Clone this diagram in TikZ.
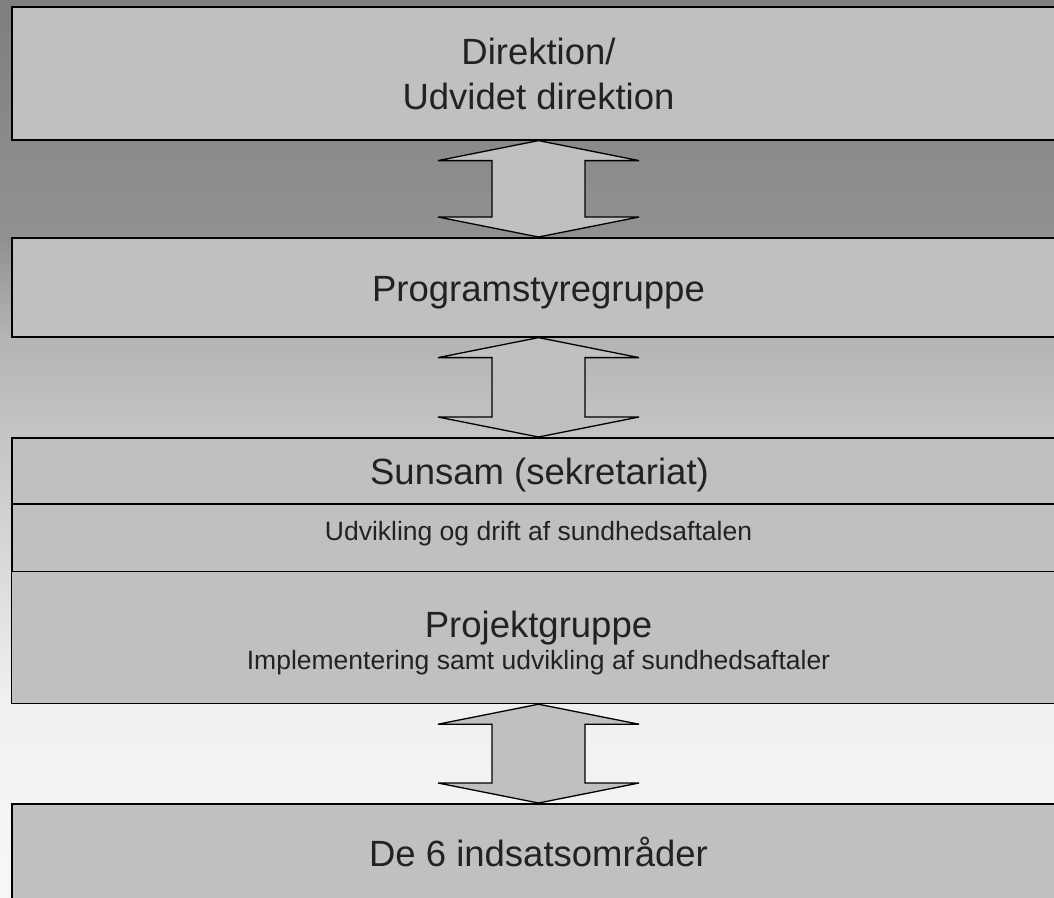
\documentclass[tikz,border=0pt]{standalone}
\usepackage{fontspec}
\setmainfont{Liberation Sans}
\usetikzlibrary{calc}
\definecolor{gA}{RGB}{127,127,127}
\definecolor{gB}{RGB}{138,138,138}
\definecolor{gC}{RGB}{145,145,145}
\definecolor{gD}{RGB}{180,180,180}
\definecolor{gE}{RGB}{197,197,197}
\definecolor{gF}{RGB}{240,240,240}
\definecolor{gG}{RGB}{247,247,247}
\definecolor{boxfill}{RGB}{192,192,192}
\definecolor{txt}{RGB}{34,34,34}
\pgfdeclareverticalshading{bgshade}{100bp}{color(0bp)=(gG); color(25bp)=(gG); color(35.98bp)=(gF); color(50.47bp)=(gE); color(56.33bp)=(gD); color(61.62bp)=(gC); color(67.2bp)=(gB); color(75bp)=(gA); color(100bp)=(gA)}
\tikzset{
  levelbox/.style={draw=black, line width=1.6pt, fill=boxfill, rectangle, inner sep=0pt, anchor=north west},
  bigtext/.style={text=txt, font=\fontsize{36.5}{44}\selectfont, anchor=base, inner sep=0pt},
  smalltext/.style={text=txt, font=\fontsize{26.5}{32}\selectfont, anchor=base, inner sep=0pt},
  dblarrow/.style={draw=black, line width=1.3pt, fill=boxfill, line join=miter}
}
\newcommand{\levelarrow}[2]{%
  \draw[dblarrow] let \p1=(#1.south), \p2=(#2.north) in
    (538.5pt,\y1) -- ++(100.5pt,-20pt) -- ++(-54pt,0pt) -- (585pt,\y2+20pt) -- ++(54pt,0pt)
    -- (538.5pt,\y2) -- ++(-100.5pt,20pt) -- ++(54pt,0pt) -- (492pt,\y1-20pt) -- ++(-54pt,0pt) -- cycle;}
\begin{document}
\begin{tikzpicture}[x=1pt,y=-1pt]
\useasboundingbox (0,0) rectangle (1054,897);
\clip (0,0) rectangle (1054,897);
\shade[shading=bgshade] (0,0) rectangle (1054,897);
% boxes
\node[levelbox, minimum width=1056pt, minimum height=133pt] (b1) at (11,6) {};
\node[levelbox, minimum width=1056pt, minimum height=99pt] (b2) at (11,237) {};
\node[levelbox, minimum width=1056pt, minimum height=66pt] (b3) at (11,437) {};
\node[levelbox, minimum width=1056pt, minimum height=68pt] (b4) at (11,503) {};
\node[levelbox, line width=1.2pt, minimum width=1056pt, minimum height=132pt] (b5) at (11,571) {};
\node[levelbox, minimum width=1056pt, minimum height=120pt] (b6) at (11,803) {};
% texts
\node[bigtext] (t1a) at (538.5,64) {Direktion/};
\node[bigtext] (t1b) at (538.5,109) {Udvidet direktion};
\node[bigtext] (t2) at (538.5,301) {Programstyregruppe};
\node[bigtext] (t3) at (539.5,484) {Sunsam (sekretariat)};
\node[smalltext] (t4) at (538.5,540) {Udvikling og drift af sundhedsaftalen};
\node[bigtext] (t5a) at (538.5,637) {Projektgruppe};
\node[smalltext] (t5b) at (538.5,669) {Implementering samt udvikling af sundhedsaftaler};
\node[bigtext] (t6) at (538.5,866) {De 6 indsatsområder};
% arrows
\levelarrow{b1}{b2}
\levelarrow{b2}{b3}
\levelarrow{b5}{b6}
\end{tikzpicture}
\end{document}
